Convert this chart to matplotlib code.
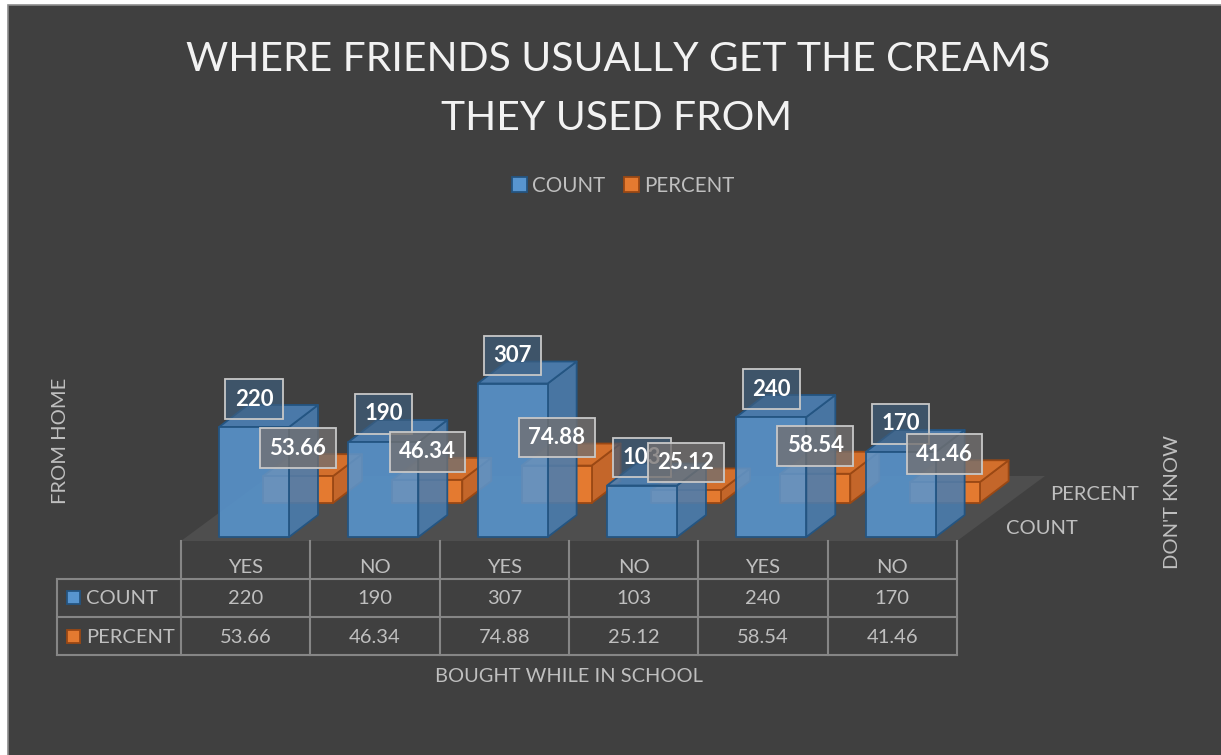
import matplotlib
matplotlib.use('Agg')
import matplotlib.pyplot as plt
from matplotlib.patches import Polygon, Rectangle
from matplotlib.transforms import Affine2D, blended_transform_factory
from matplotlib.colors import to_rgba

plt.rcParams['font.family'] = ['Lato', 'DejaVu Sans']

# datos de la tabla
categories = ['YES', 'NO', 'YES', 'NO', 'YES', 'NO']
count = [220, 190, 307, 103, 240, 170]
percent = [53.66, 46.34, 74.88, 25.12, 58.54, 41.46]
series = ['COUNT', 'PERCENT']

W, H = 1221, 755
BG = '#404040'
TXT = '#bfbfbf'
GRID = '#868686'

# colores de las cajas: frente, lado, tapa, borde
BLUE = ('#5895cf', '#4a7db0', '#4c82b8', '#245582')
ORANGE = ('#e47a30', '#c4662a', '#d36f2c', '#9a4814')

# geometria de la vista oblicua (x en categorias, y en unidades de valor)
FACE_OFF = 0.294
BAR_W = 0.541
DX, DY = 0.224, 44        # profundidad de cada caja
ROW_DX, ROW_DY = 0.340, 68  # corrimiento de la fila de atras
FLOOR_Y = -8
FLOOR_DX, FLOOR_DY = 0.680, 130
LABEL_DY = 56

fig = plt.figure(figsize=(W / 100, H / 100), dpi=100, facecolor='white')
# transformacion en pixeles contados desde arriba a la izquierda
px = Affine2D().scale(1 / 100, -1 / 100).translate(0, H / 100) + fig.dpi_scale_trans

fig.add_artist(Rectangle((7.5, 4.5), W, H, transform=px, facecolor=BG,
                         edgecolor='#8c8c8c', lw=1.2, zorder=-5))

ax = fig.add_axes([181 / W, (H - 541) / H, 776 / W, 241 / H])
ax.set_xlim(0, 6)
ax.set_ylim(-8, 474)
ax.axis('off')


def Box(x0, base, z, colors, alpha, zorder):
	front, side, top, edge = colors
	x1 = x0 + BAR_W
	t = base + z
	faces = [
		([(x1, base), (x1 + DX, base + DY), (x1 + DX, t + DY), (x1, t)], side),
		([(x0, t), (x1, t), (x1 + DX, t + DY), (x0 + DX, t + DY)], top),
		([(x0, base), (x1, base), (x1, t), (x0, t)], front),
	]
	for pts, fc in faces:
		ax.add_patch(Polygon(pts, closed=True, facecolor=to_rgba(fc, alpha),
							 edgecolor=edge, lw=1.3, joinstyle='round',
							 zorder=zorder, clip_on=False))


# piso
n = len(categories)
ax.add_patch(Polygon([(0, FLOOR_Y), (n, FLOOR_Y), (n + FLOOR_DX, FLOOR_Y + FLOOR_DY),
					  (FLOOR_DX, FLOOR_Y + FLOOR_DY)], closed=True,
					 facecolor='#4e4e4e', edgecolor='none', zorder=1, clip_on=False))

# fila de atras (PERCENT) y fila de adelante (COUNT)
for i, v in enumerate(percent):
	Box(i + FACE_OFF + ROW_DX, ROW_DY, v, ORANGE, 1.0, 2)
for i, v in enumerate(count):
	Box(i + FACE_OFF, 0, v, BLUE, 0.88, 3)

# etiquetas de datos
for i, v in enumerate(count):
	ax.text(i + FACE_OFF + BAR_W / 2, v + LABEL_DY, str(v), ha='center', va='center',
			fontsize=16, weight='bold', color='white', zorder=6,
			bbox=dict(boxstyle='square,pad=0.42', fc=to_rgba('#3e5f80', 0.65),
					  ec='#c8c8c8', lw=1.3))
for i, v in enumerate(percent):
	ax.text(i + FACE_OFF + ROW_DX + BAR_W / 2, ROW_DY + v + LABEL_DY, f'{v:.2f}',
			ha='center', va='center', fontsize=16, weight='bold', color='white',
			zorder=7, bbox=dict(boxstyle='square,pad=0.42', fc=to_rgba('#737070', 0.78),
								ec='#c8c8c8', lw=1.3))

# tabla de datos
tr = blended_transform_factory(ax.transData, px)
LEG_X = -0.959
for i in range(n + 1):
	ax.plot([i, i], [541, 655], transform=tr, color=GRID, lw=1.5, clip_on=False)
ax.plot([LEG_X, LEG_X], [579, 655], transform=tr, color=GRID, lw=1.5, clip_on=False)
for y in (579, 617, 655):
	ax.plot([LEG_X, n], [y, y], transform=tr, color=GRID, lw=1.5, clip_on=False)

for i in range(n):
	ax.text(i + 0.5, 573, categories[i], transform=tr, ha='center', va='baseline',
			fontsize=14.5, color=TXT)
	ax.text(i + 0.5, 604, str(count[i]), transform=tr, ha='center', va='baseline',
			fontsize=14.5, color=TXT)
	ax.text(i + 0.5, 643, f'{percent[i]:.2f}', transform=tr, ha='center', va='baseline',
			fontsize=14.5, color=TXT)

for (name, colors, y) in ((series[0], BLUE, 604), (series[1], ORANGE, 643)):
	fig.add_artist(Rectangle((67, y - 13), 13, 13, transform=px, facecolor=colors[0],
							 edgecolor=colors[3], lw=1.3))
	fig.text(86, y, name, transform=px, ha='left', va='baseline', fontsize=14.5, color=TXT)

# leyenda
for (name, colors, x) in ((series[0], BLUE, 512), (series[1], ORANGE, 624)):
	fig.add_artist(Rectangle((x, 177), 15, 15, transform=px, facecolor=colors[0],
							 edgecolor=colors[3], lw=1.3))
	fig.text(x + 20, 192, name, transform=px, ha='left', va='baseline', fontsize=14.8, color=TXT)

# titulo y ejes
fig.text(618, 71, 'WHERE FRIENDS USUALLY GET THE CREAMS', transform=px, ha='center',
		 va='baseline', fontsize=29.3, color='#f2f2f2')
fig.text(617, 130, 'THEY USED FROM', transform=px, ha='center', va='baseline',
		 fontsize=29.3, color='#f2f2f2')
fig.text(569, 682, 'BOUGHT WHILE IN SCHOOL', transform=px, ha='center', va='baseline',
		 fontsize=14.4, color=TXT)
fig.text(60, 441, 'FROM HOME', transform=px, ha='center', va='center', rotation=90,
		 fontsize=14.5, color=TXT)
fig.text(1173, 502, "DON'T KNOW", transform=px, ha='center', va='center', rotation=90,
		 fontsize=14.5, color=TXT)
fig.text(1095, 500, 'PERCENT', transform=px, ha='center', va='baseline', fontsize=14.5, color=TXT)
fig.text(1042, 534, 'COUNT', transform=px, ha='center', va='baseline', fontsize=14.5, color=TXT)

fig.savefig('out.png', dpi=100, facecolor=fig.get_facecolor())
